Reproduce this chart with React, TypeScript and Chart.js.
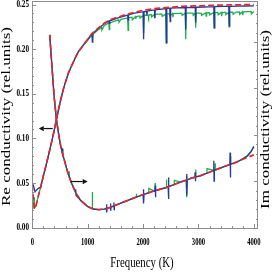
import React, { useEffect, useRef } from 'react';
import { Chart, registerables } from 'chart.js';

Chart.register(...registerables);

// ---------- Re conductivity (rising, saturating curve) ----------
const reModelFreq = [0, 15, 40, 70, 100, 150, 200, 250, 300, 350, 400, 436, 470, 520, 565, 610, 650, 700, 745, 790, 830, 880, 925, 1000, 1085, 1200, 1300, 1400, 1550, 1700, 1850, 2000, 2150, 2300, 2500, 2700, 2950, 3200, 3450, 3700, 4000];
const reModel = [0.048, 0.036, 0.021, 0.025, 0.033, 0.045, 0.058, 0.070, 0.083, 0.096, 0.110, 0.121, 0.131, 0.145, 0.156, 0.165, 0.173, 0.180, 0.186, 0.192, 0.197, 0.201, 0.205, 0.211, 0.218, 0.224, 0.229, 0.233, 0.236, 0.239, 0.2415, 0.2435, 0.245, 0.246, 0.247, 0.248, 0.2485, 0.249, 0.2495, 0.2497, 0.250];

const reBlueFreq = [0, 25, 50, 80, 120, 150, 200, 250, 300, 350, 400, 436, 470, 520, 565, 610, 650, 700, 745, 790, 830, 880, 925, 1000, 1077, 1085, 1093, 1200, 1300, 1382, 1390, 1398, 1550, 1722, 1730, 1738, 1850, 2002, 2010, 2018, 2062, 2070, 2078, 2150, 2205, 2213, 2221, 2300, 2412, 2420, 2428, 2482, 2490, 2498, 2600, 2762, 2770, 2778, 2942, 2950, 2958, 3100, 3277, 3285, 3293, 3450, 3547, 3555, 3563, 3700, 3850, 4000];
const reBlue = [0.0505, 0.046, 0.040, 0.0425, 0.0445, 0.045, 0.058, 0.070, 0.083, 0.096, 0.110, 0.121, 0.131, 0.145, 0.156, 0.165, 0.173, 0.180, 0.186, 0.192, 0.197, 0.201, 0.205, 0.211, 0.2172, 0.208, 0.2178, 0.2235, 0.2285, 0.2315, 0.229, 0.2318, 0.2352, 0.2382, 0.2325, 0.2384, 0.2403, 0.2420, 0.211, 0.2421, 0.2425, 0.238, 0.2426, 0.2435, 0.2440, 0.235, 0.2441, 0.2447, 0.2455, 0.207, 0.2456, 0.2459, 0.231, 0.2459, 0.2463, 0.2467, 0.222, 0.2467, 0.2470, 0.230, 0.2470, 0.2473, 0.2476, 0.224, 0.2476, 0.2479, 0.2480, 0.226, 0.2480, 0.2482, 0.2484, 0.2485];

const reGreenFreq = [0, 15, 30, 34, 38, 60, 100, 150, 200, 250, 300, 350, 400, 436, 470, 520, 565, 610, 650, 700, 745, 790, 830, 880, 925, 1000, 1077, 1085, 1093, 1200, 1250, 1256, 1300, 1382, 1390, 1398, 1500, 1560, 1566, 1600, 1722, 1730, 1738, 1800, 1806, 1862, 1870, 1878, 1940, 1946, 2002, 2010, 2018, 2092, 2100, 2108, 2150, 2156, 2202, 2210, 2218, 2300, 2340, 2346, 2412, 2420, 2428, 2480, 2486, 2532, 2540, 2548, 2650, 2700, 2706, 2762, 2770, 2778, 2860, 2900, 2906, 2942, 2950, 2958, 3050, 3056, 3132, 3140, 3148, 3200, 3206, 3277, 3285, 3293, 3350, 3356, 3412, 3420, 3428, 3490, 3496, 3547, 3555, 3563, 3620, 3626, 3680, 3740, 3746, 3792, 3800, 3808, 3900, 3950, 3956, 4000];
const reGreen = [0.037, 0.030, 0.0215, 0.034, 0.022, 0.0235, 0.033, 0.045, 0.058, 0.070, 0.083, 0.096, 0.110, 0.121, 0.131, 0.145, 0.156, 0.165, 0.173, 0.180, 0.186, 0.192, 0.197, 0.201, 0.2045, 0.2100, 0.2160, 0.2140, 0.2163, 0.2222, 0.2245, 0.2215, 0.2265, 0.2293, 0.2220, 0.2295, 0.2318, 0.2328, 0.2300, 0.2335, 0.2350, 0.2210, 0.2351, 0.2358, 0.2330, 0.2365, 0.2340, 0.2366, 0.2373, 0.2350, 0.2378, 0.2180, 0.2379, 0.2383, 0.2360, 0.2384, 0.2386, 0.2362, 0.2388, 0.2345, 0.2389, 0.2392, 0.2394, 0.2368, 0.2396, 0.2070, 0.2396, 0.2398, 0.2372, 0.2399, 0.2360, 0.2399, 0.2402, 0.2403, 0.2378, 0.2404, 0.2110, 0.2404, 0.2405, 0.2405, 0.2380, 0.2406, 0.2240, 0.2406, 0.2402, 0.2380, 0.2408, 0.2370, 0.2408, 0.2409, 0.2385, 0.2410, 0.2240, 0.2410, 0.2411, 0.2386, 0.2412, 0.2370, 0.2412, 0.2413, 0.2388, 0.2414, 0.2250, 0.2414, 0.2415, 0.2390, 0.2416, 0.2417, 0.2392, 0.2418, 0.2380, 0.2418, 0.2420, 0.2421, 0.2395, 0.2422];

// ---------- Im conductivity (falling, then slowly rising curve) ----------
const imModelFreq = [315, 350, 393, 436, 480, 514, 573, 634, 700, 784, 880, 995, 1100, 1200, 1300, 1414, 1600, 1829, 2000, 2200, 2423, 2676, 2850, 3030, 3276, 3450, 3631, 3800, 4000];
const imModel = [0.216, 0.185, 0.148, 0.121, 0.103, 0.091, 0.077, 0.063, 0.051, 0.039, 0.030, 0.0238, 0.0208, 0.0200, 0.0207, 0.0228, 0.0275, 0.033, 0.037, 0.041, 0.045, 0.051, 0.055, 0.058, 0.064, 0.068, 0.072, 0.0765, 0.0815];

const imBlueFreq = [315, 350, 393, 436, 480, 514, 540, 545, 550, 573, 634, 700, 778, 784, 790, 880, 995, 1100, 1200, 1300, 1338, 1342, 1346, 1350, 1410, 1414, 1418, 1422, 1470, 1474, 1478, 1482, 1600, 1829, 2000, 2006, 2012, 2018, 2200, 2214, 2219, 2224, 2230, 2423, 2452, 2457, 2462, 2468, 2676, 2782, 2787, 2792, 2798, 2850, 2935, 2940, 2945, 2950, 3030, 3272, 3277, 3282, 3288, 3450, 3566, 3571, 3576, 3582, 3700, 3800, 3880, 3950, 4000];
const imBlue = [0.216, 0.185, 0.148, 0.121, 0.103, 0.091, 0.085, 0.089, 0.081, 0.077, 0.063, 0.051, 0.0400, 0.043, 0.036, 0.030, 0.0238, 0.0208, 0.0200, 0.0207, 0.0213, 0.026, 0.017, 0.0215, 0.0227, 0.027, 0.019, 0.0229, 0.0240, 0.028, 0.020, 0.0242, 0.0275, 0.033, 0.0368, 0.043, 0.027, 0.0372, 0.041, 0.0413, 0.047, 0.034, 0.0415, 0.045, 0.0458, 0.056, 0.032, 0.046, 0.051, 0.0532, 0.060, 0.036, 0.0535, 0.055, 0.0565, 0.062, 0.052, 0.0567, 0.058, 0.0639, 0.075, 0.052, 0.0642, 0.068, 0.0706, 0.084, 0.056, 0.0709, 0.0735, 0.0770, 0.0800, 0.0850, 0.0910];

const imGreenFreq = [315, 350, 393, 436, 480, 514, 545, 550, 555, 573, 634, 660, 664, 668, 700, 784, 880, 995, 1080, 1084, 1088, 1200, 1300, 1414, 1600, 1829, 1876, 1880, 1884, 2000, 2100, 2104, 2200, 2215, 2219, 2223, 2419, 2423, 2427, 2560, 2564, 2676, 2780, 2785, 2790, 2796, 2946, 2950, 2954, 3030, 3150, 3154, 3276, 3296, 3300, 3304, 3450, 3576, 3580, 3584, 3700, 3800, 3880, 3950, 4000];
const imGreen = [0.216, 0.185, 0.148, 0.121, 0.103, 0.091, 0.083, 0.088, 0.081, 0.077, 0.063, 0.058, 0.063, 0.057, 0.051, 0.039, 0.030, 0.0238, 0.0212, 0.040, 0.0210, 0.0200, 0.0207, 0.0228, 0.0275, 0.033, 0.0340, 0.038, 0.0341, 0.037, 0.039, 0.044, 0.041, 0.0412, 0.050, 0.0413, 0.0449, 0.054, 0.0451, 0.048, 0.053, 0.051, 0.0530, 0.058, 0.034, 0.0534, 0.0565, 0.065, 0.0567, 0.058, 0.061, 0.066, 0.064, 0.0645, 0.072, 0.0646, 0.068, 0.0710, 0.080, 0.0712, 0.0737, 0.0772, 0.0805, 0.0855, 0.0905];

// ---------- axes ----------
const xMajorStep = 1000;
const xMinorStep = 200;
const yMajorStep = 0.05;
const yMinorStep = 0.01;
const xTitle = 'Frequency (K)';
const yLeftTitle = 'Re conductivity (rel.units)';
const yRightTitle = 'Im conductivity (rel.units)';

// ---------- annotation arrows (data coordinates: [freq, value]) ----------
const arrowStarts = [[369, 0.111], [694, 0.0516]];
const arrowEnds = [[117, 0.111], [1000, 0.0516]];

const RED = '#e3262e';
const BLUE = '#27399b';
const GREEN = '#20ae50';
const FRAME = '#8c8c8c';

const pts = (xs: number[], ys: number[]) => xs.map((x, i) => ({ x, y: ys[i] }));

const isMultiple = (v: number, step: number) => Math.abs(v / step - Math.round(v / step)) < 1e-6;

function drawText(ctx: CanvasRenderingContext2D, text: string, x: number, y: number, font: string, sx: number, sy: number, rot: number, align: CanvasTextAlign) {
  ctx.save();
  ctx.translate(x, y);
  if (rot) ctx.rotate(rot);
  ctx.scale(sx, sy);
  ctx.font = font;
  ctx.fillStyle = '#000';
  ctx.textAlign = align;
  ctx.textBaseline = 'middle';
  ctx.fillText(text, 0, 0);
  ctx.restore();
}

const framePlugin = {
  id: 'mmaFrame',
  afterDraw(chart: any) {
    const { ctx, chartArea: a, scales } = chart;
    const xs = scales.x;
    const yl = scales.y;
    const yr = scales.yR;
    ctx.save();
    ctx.strokeStyle = FRAME;
    ctx.lineWidth = 1;
    ctx.strokeRect(a.left + 0.5, a.top + 0.5, a.right - a.left - 1, a.bottom - a.top);

    ctx.beginPath();
    xs.ticks.forEach((t: any) => {
      const px = Math.round(xs.getPixelForValue(t.value)) + 0.5;
      const len = isMultiple(t.value, xMajorStep) ? 4 : 2;
      ctx.moveTo(px, a.bottom);
      ctx.lineTo(px, a.bottom - len);
    });
    yl.ticks.forEach((t: any) => {
      const py = Math.round(yl.getPixelForValue(t.value)) + 0.5;
      const len = isMultiple(t.value, yMajorStep) ? 4 : 2;
      ctx.moveTo(a.left, py);
      ctx.lineTo(a.left + len, py);
    });
    yr.ticks.forEach((t: any) => {
      const py = Math.round(yr.getPixelForValue(t.value)) + 0.5;
      const len = isMultiple(t.value, yMajorStep) ? 4 : 2;
      ctx.moveTo(a.right, py);
      ctx.lineTo(a.right - len, py);
    });
    ctx.stroke();

    // arrows
    ctx.strokeStyle = '#111';
    ctx.fillStyle = '#111';
    ctx.lineWidth = 1.2;
    arrowStarts.forEach((s, i) => {
      const e = arrowEnds[i];
      const x0 = xs.getPixelForValue(s[0]);
      const y0 = yl.getPixelForValue(s[1]);
      const x1 = xs.getPixelForValue(e[0]);
      const y1 = yl.getPixelForValue(e[1]);
      const ang = Math.atan2(y1 - y0, x1 - x0);
      const hl = 5;
      const hw = 2.6;
      const bx = x1 - hl * Math.cos(ang);
      const by = y1 - hl * Math.sin(ang);
      ctx.beginPath();
      ctx.moveTo(x0, y0);
      ctx.lineTo(bx, by);
      ctx.stroke();
      ctx.beginPath();
      ctx.moveTo(x1, y1);
      ctx.lineTo(bx + hw * Math.sin(ang), by - hw * Math.cos(ang));
      ctx.lineTo(bx - hw * Math.sin(ang), by + hw * Math.cos(ang));
      ctx.closePath();
      ctx.fill();
    });

    // tick labels
    const tickFont = 'bold 10px "Liberation Serif", "Times New Roman", serif';
    xs.ticks.forEach((t: any) => {
      if (!isMultiple(t.value, xMajorStep)) return;
      drawText(ctx, String(Math.round(t.value)), xs.getPixelForValue(t.value), a.bottom + 14, tickFont, 0.66, 1, 0, 'center');
    });
    yl.ticks.forEach((t: any) => {
      if (!isMultiple(t.value, yMajorStep)) return;
      drawText(ctx, t.value.toFixed(2), a.left - 3, yl.getPixelForValue(t.value), tickFont, 0.72, 1, 0, 'right');
    });

    // axis titles
    const titleFont = '15px "Liberation Serif", "Times New Roman", serif';
    drawText(ctx, xTitle, (a.left + a.right) / 2 - 3, a.bottom + 35, titleFont, 0.72, 1, 0, 'center');
    const yTitleFont = '17px "Liberation Serif", "Times New Roman", serif';
    drawText(ctx, yLeftTitle, 7, (a.top + a.bottom) / 2 + 2, yTitleFont, 1, 0.72, -Math.PI / 2, 'center');
    drawText(ctx, yRightTitle, a.right + 8, (a.top + a.bottom) / 2 + 5, yTitleFont, 1, 0.72, -Math.PI / 2, 'center');
    ctx.restore();
  },
};

export default function App() {
  const ref = useRef<HTMLCanvasElement>(null);
  useEffect(() => {
    const canvas = ref.current;
    if (!canvas) return;
    const chart = new Chart(canvas, {
      type: 'scatter',
      data: {
        datasets: [
          { label: 'Re model', data: pts(reModelFreq, reModel), borderColor: RED, borderWidth: 1.7, borderDash: [6, 3] },
          { label: 'Im model', data: pts(imModelFreq, imModel), borderColor: RED, borderWidth: 1.7, borderDash: [6, 3] },
          { label: 'Re blue', data: pts(reBlueFreq, reBlue), borderColor: BLUE, borderWidth: 1.3 },
          { label: 'Im blue', data: pts(imBlueFreq, imBlue), borderColor: BLUE, borderWidth: 1.3 },
          { label: 'Re green', data: pts(reGreenFreq, reGreen), borderColor: GREEN, borderWidth: 1.3 },
          { label: 'Im green', data: pts(imGreenFreq, imGreen), borderColor: GREEN, borderWidth: 1.3 },
        ].map((d) => ({ ...d, showLine: true, pointRadius: 0, pointHoverRadius: 0, tension: 0, fill: false, backgroundColor: d.borderColor })),
      },
      options: {
        animation: false,
        responsive: false,
        devicePixelRatio: 1,
        layout: { padding: { top: 1, left: 0, right: 0, bottom: 0 } },
        plugins: { legend: { display: false }, tooltip: { enabled: false } },
        events: [],
        scales: {
          x: {
            type: 'linear',
            position: 'bottom',
            min: -5,
            max: 4075,
            afterFit: (s: any) => { s.height = 45; },
            ticks: { stepSize: xMinorStep, includeBounds: false, display: false },
            grid: { display: false },
            border: { display: false },
          },
          y: {
            type: 'linear',
            position: 'left',
            min: -0.0005,
            max: 0.254,
            afterFit: (s: any) => { s.width = 32; },
            ticks: { stepSize: yMinorStep, includeBounds: false, display: false },
            grid: { display: false },
            border: { display: false },
          },
          yR: {
            type: 'linear',
            position: 'right',
            min: 0,
            max: 0.244,
            afterFit: (s: any) => { s.width = 15; },
            ticks: { stepSize: yMinorStep, includeBounds: false, display: false },
            grid: { display: false },
            border: { display: false },
          },
        },
      } as any,
      plugins: [framePlugin],
    });
    return () => chart.destroy();
  }, []);
  return (
    <div style={{ position: 'fixed', left: 0, top: 0, width: 273, height: 273, background: '#fff' }}>
      <canvas ref={ref} width={273} height={273} style={{ display: 'block', width: 273, height: 273 }} />
    </div>
  );
}
